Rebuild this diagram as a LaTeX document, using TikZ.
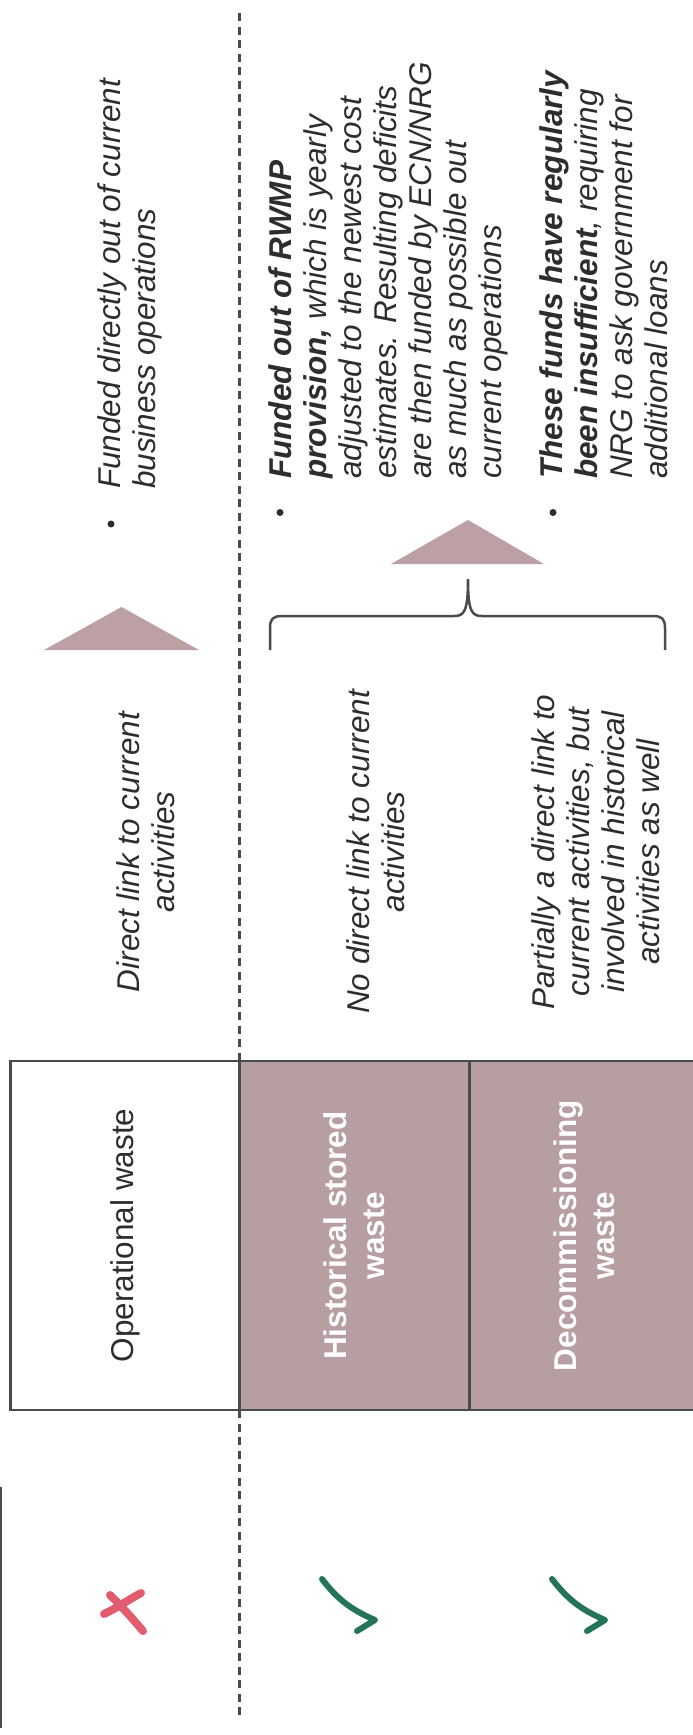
\documentclass[tikz,border=0pt]{standalone}
\usepackage{fontspec}
\setmainfont{Liberation Sans}
\definecolor{boxmauve}{RGB}{182,158,162}
\definecolor{trimauve}{RGB}{188,160,166}
\definecolor{crossred}{RGB}{226,92,112}
\definecolor{tickgreen}{RGB}{36,116,90}
\definecolor{linegray}{RGB}{72,76,76}
\definecolor{textgray}{RGB}{45,45,45}
\usetikzlibrary{positioning}

\begin{document}
\begin{tikzpicture}[x=1pt, y=-1pt,
    cell/.style={draw=linegray, line width=2.8pt, rotate=90, minimum width=349pt, minimum height=229pt,
        inner sep=0pt, outer sep=0pt, align=center, text=textgray, font=\fontsize{31.5}{38}\selectfont},
    darkcell/.style={cell, fill=boxmauve, text=white, font=\fontsize{31.5}{38}\selectfont\bfseries},
    linktext/.style={rotate=90, align=center, text=textgray, inner sep=0pt,
        font=\fontsize{31.5}{35}\selectfont\itshape},
    fundtext/.style={rotate=90, align=left, anchor=north west, text=textgray, inner sep=0pt,
        font=\fontsize{31.5}{35}\selectfont\itshape},
    dot/.style={circle, fill=textgray, inner sep=0pt, minimum size=7pt},
    divider/.style={linegray, line width=2.5pt, dash pattern=on 8pt off 5.5pt},
    bracket/.style={linegray, line width=2.5pt},
    crossstroke/.style={crossred, line width=8pt, line cap=round},
    tickstroke/.style={tickgreen, line width=6pt, line cap=round, line join=round}]
    \useasboundingbox (0,0) rectangle (693,1735);

    % Waste types
    \node[cell] (opwaste) at (125,1235.5) {Operational waste};
    \node[darkcell] (histwaste) at (354.5,1235.5) {Historical stored\\waste};
    \node[darkcell] (decomwaste) at (584,1235.5) {Decommissioning\\waste};

    % Dashed divider
    \coordinate (divtop) at (239.5,13);
    \coordinate (divbot) at (239.5,1717);
    \draw[divider] (divtop) -- (opwaste.south east);
    \draw[divider] (opwaste.south west) -- (divbot);
    \draw[linegray, line width=1.5pt] (1,1487) -- (1,1728);

    % Link to current activities
    \node[linktext] (linkop) at (146,852) {Direct link to current\\activities};
    \node[linktext] (linkhist) at (376,852) {No direct link to current\\activities};
    \node[linktext] (linkdecom) at (596,852) {Partially a direct link to\\current activities, but\\involved in historical\\activities as well};

    % Arrows and brace
    \fill[trimauve] (44,650) -- (121.5,607) -- (199,650) -- cycle;
    \fill[trimauve] (391,564) -- (468,520) -- (544,564) -- cycle;
    \draw[bracket] (270,650) -- (270,628) .. controls (270,619) and (273,616) .. (282,616)
        -- (454,616) .. controls (464,616) and (468,612) .. (468,579)
        .. controls (468,612) and (472,616) .. (482,616)
        -- (653,616) .. controls (662,616) and (665,619) .. (665,628) -- (665,650);

    % Funding
    \node[dot] (dotop) at (111,524) {};
    \node[dot] (dothist) at (280,512.5) {};
    \node[dot] (dotdecom) at (553,512.5) {};
    \node[fundtext] (fundop) at (97,489) {Funded directly out of current\\business operations};
    \node[fundtext] (fundhist) at (268,479) {\textbf{Funded out of RWMP}\\\textbf{provision,} which is yearly\\adjusted to the newest cost\\estimates. Resulting deficits\\are then funded by ECN/NRG\\as much as possible out\\current operations};
    \node[fundtext] (funddecom) at (539,479) {\textbf{These funds have regularly}\\\textbf{been insufficient}, requiring\\NRG to ask government for\\additional loans};

    % Marks
    \draw[crossstroke] (110,1595) .. controls (124,1609) and (132,1618) .. (143,1631);
    \draw[crossstroke] (104,1614) .. controls (117,1608) and (128,1600) .. (141,1593);
    \foreach \dx in {0,230} {
        \draw[tickstroke, xshift=\dx] (322,1579) .. controls (338,1600) and (352,1610) .. (375,1620) -- (357,1631);
    }
\end{tikzpicture}
\end{document}
